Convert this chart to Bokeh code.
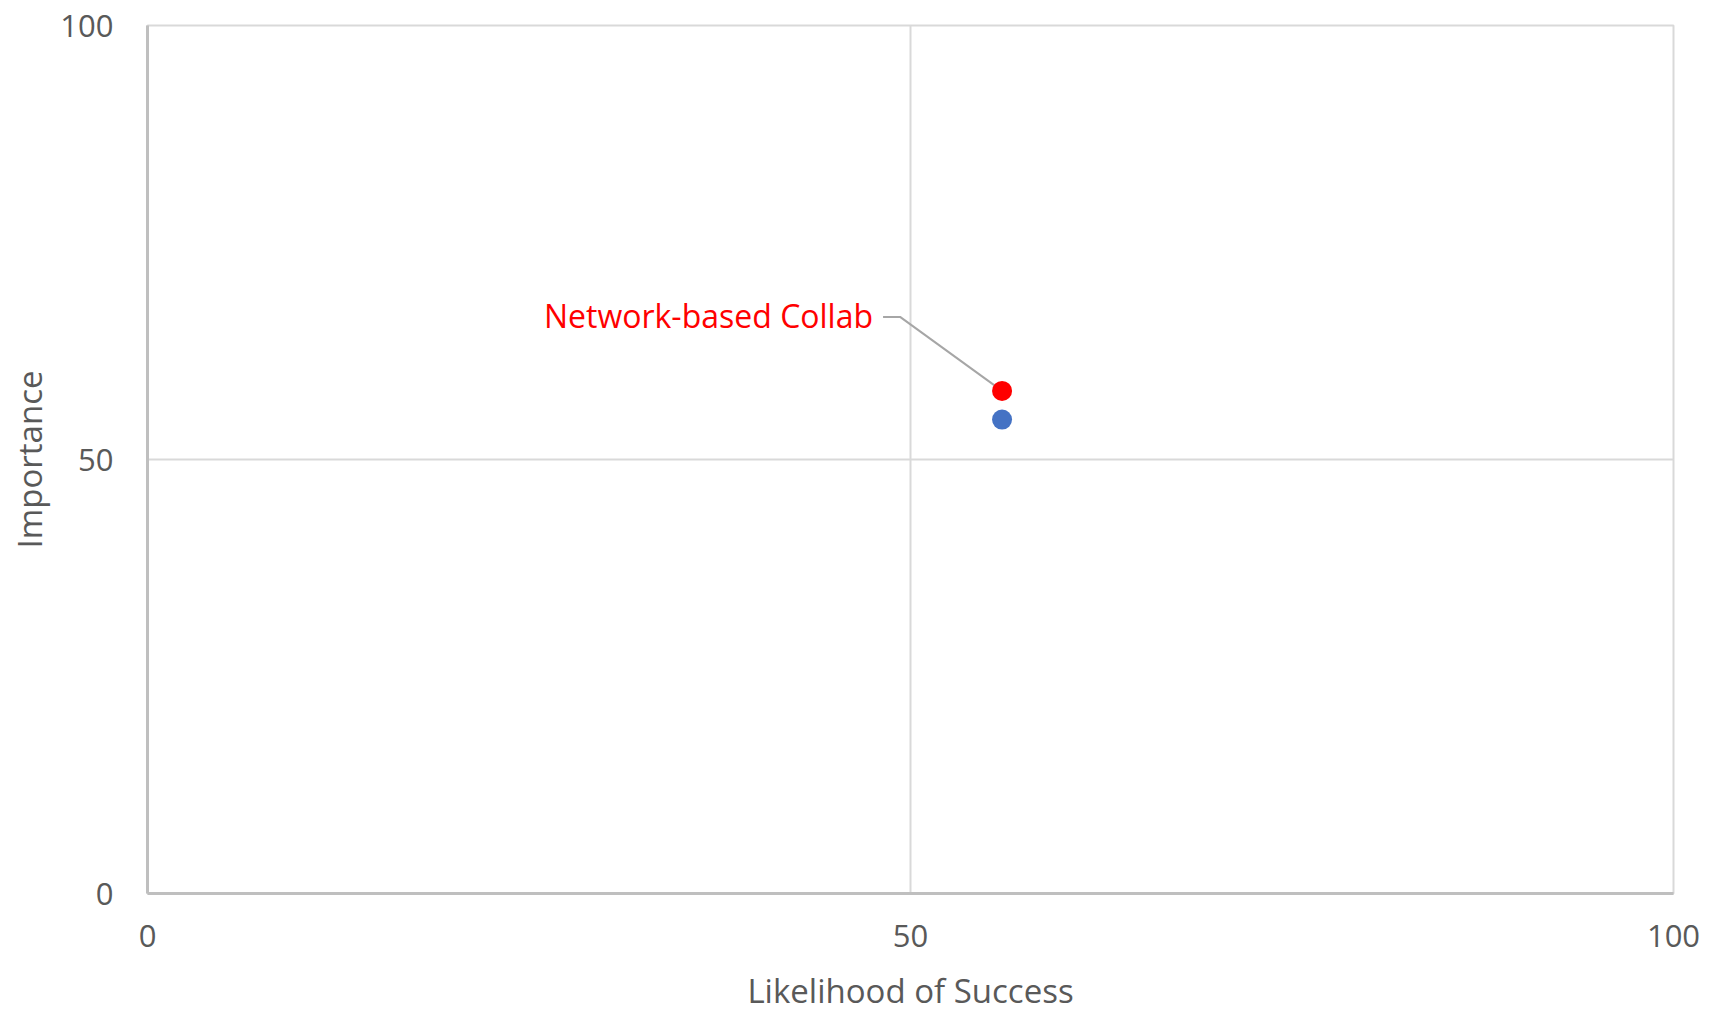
from bokeh.plotting import figure
from bokeh.models import Range1d, FixedTicker, Label
from bokeh.embed import file_html
from bokeh.resources import INLINE

# ---- data ----
series_names = ["Network-based Collab", "Baseline"]
likelihood = [56.0, 56.0]
importance = [57.9, 54.6]
point_colors = ["#FF0000", "#4472C4"]
tick_values = [0, 50, 100]
x_title = "Likelihood of Success"
y_title = "Importance"
label_text = "Network-based Collab"

FONT = "Open Sans"
GRAY = "#595959"

W, H = 1717, 1015
BL, BR, BT, BB = 147, 44, 25, 122

p = figure(width=W, height=H, x_range=Range1d(0, 100), y_range=Range1d(0, 100),
           output_backend="svg", toolbar_location=None,
           min_border_left=BL, min_border_right=BR, min_border_top=BT, min_border_bottom=BB)

p.outline_line_color = "#d9d9d9"
p.outline_line_width = 2
p.background_fill_color = "white"
p.border_fill_color = "white"

for ax in (p.xaxis[0], p.yaxis[0]):
    ax.ticker = FixedTicker(ticks=tick_values)
    ax.axis_line_color = "#bfbfbf"
    ax.axis_line_width = 3
    ax.major_tick_line_color = None
    ax.minor_tick_line_color = None
    ax.major_label_text_font = FONT
    ax.major_label_text_font_size = "31px"
    ax.major_label_text_color = GRAY
    ax.axis_label_text_font = FONT
    ax.axis_label_text_font_size = "33px"
    ax.axis_label_text_color = GRAY
    ax.axis_label_text_font_style = "normal"

p.xaxis.axis_label = x_title
p.yaxis.axis_label = y_title
p.xaxis.major_label_standoff = 25
p.yaxis.major_label_standoff = 28
p.xaxis.axis_label_standoff = 18
p.yaxis.axis_label_standoff = 5

for g in (p.xgrid[0], p.ygrid[0]):
    g.ticker = FixedTicker(ticks=tick_values)
    g.grid_line_color = "#d9d9d9"
    g.grid_line_width = 2

# leader line from label to red point (pixel offsets converted to data units)
frame_w = W - BL - BR
frame_h = H - BT - BB
px_x = 100.0 / frame_w
px_y = 100.0 / frame_h
lx, ly = likelihood[0], importance[0]
p.line([lx - 119 * px_x, lx - 102 * px_x, lx],
       [ly + 74 * px_y, ly + 74 * px_y, ly],
       line_color="#a6a6a6", line_width=2)

p.scatter(likelihood, importance, size=20, fill_color=point_colors,
          line_color=point_colors, line_width=0)

lbl = Label(x=lx, y=ly, x_offset=-129, y_offset=75, text=label_text,
            text_font=FONT, text_font_size="32px", text_color="#FF0000",
            text_align="right", text_baseline="middle")
p.add_layout(lbl)

open("out.html", "w").write(file_html(p, INLINE))
